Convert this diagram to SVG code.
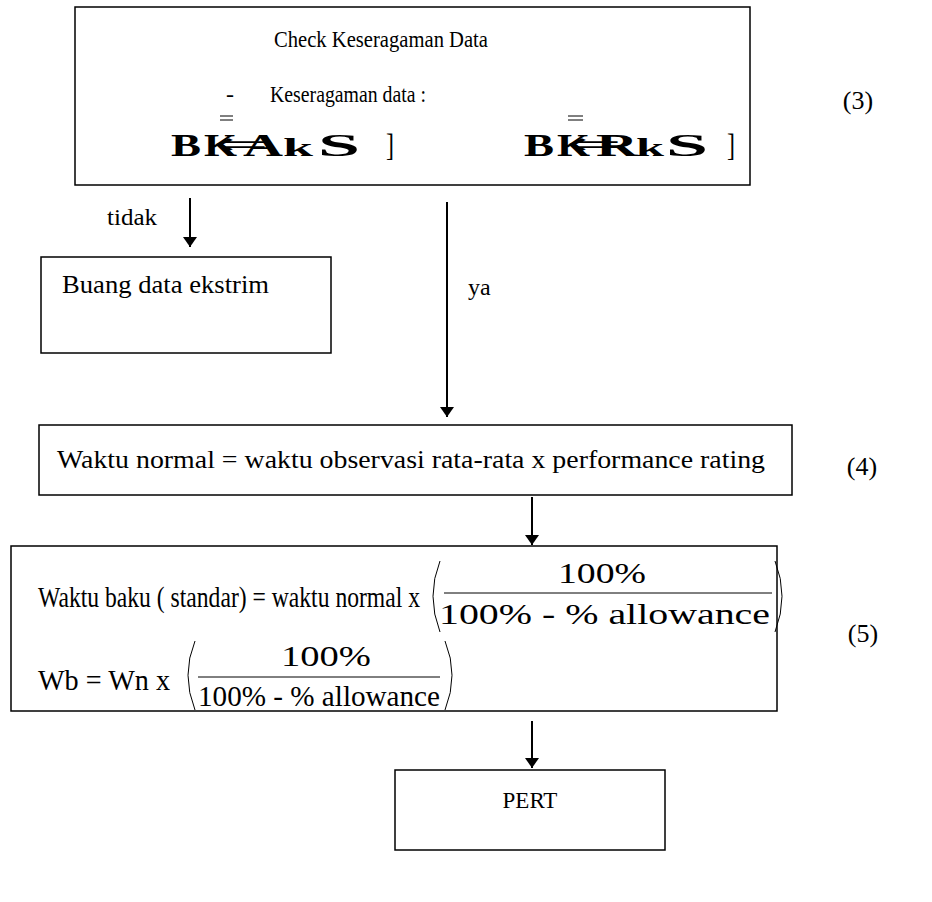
<svg xmlns="http://www.w3.org/2000/svg" width="932" height="902" viewBox="0 0 932 902">
<style>
.box{fill:#fff;stroke:#000;stroke-width:1.5}
.t{font-family:"Liberation Serif","Times New Roman",serif;fill:#000}
.g{font-family:"Liberation Serif","Times New Roman",serif;font-weight:bold;fill:#000}
.ln{stroke:#000;stroke-width:2;fill:none}
.thin{stroke:#000;stroke-width:1;fill:none}
</style>
<defs>
<marker id="ah" viewBox="0 0 10 14" refX="10" refY="7" markerWidth="10" markerHeight="14" markerUnits="userSpaceOnUse" orient="auto">
<path d="M0,0 L10,7 L0,14 Z" fill="#000"/>
</marker>
</defs>
<rect width="932" height="902" fill="#fff"/>

<g id="node-check">
<rect class="box" x="75" y="7" width="675" height="178"/>
<text class="t" x="274" y="47" font-size="24" textLength="214" lengthAdjust="spacingAndGlyphs">Check Keseragaman Data</text>
<text class="t" x="226" y="102" font-size="24">-</text>
<text class="t" x="270" y="102" font-size="24" textLength="156" lengthAdjust="spacingAndGlyphs">Keseragaman data :</text>
<line class="thin" x1="220" y1="116" x2="233" y2="116"/>
<line class="thin" x1="220" y1="120" x2="233" y2="120"/>
<line class="thin" x1="568" y1="116" x2="583" y2="116"/>
<line class="thin" x1="568" y1="120" x2="583" y2="120"/>
<g class="g" font-size="32">
<text x="171" y="156" textLength="30" lengthAdjust="spacingAndGlyphs">B</text>
<text x="204" y="156" textLength="33" lengthAdjust="spacingAndGlyphs">K</text>
<text x="213" y="154" font-weight="normal" font-size="30" textLength="55" lengthAdjust="spacingAndGlyphs">⇐</text>
<text x="243" y="156" textLength="40" lengthAdjust="spacingAndGlyphs">A</text>
<text x="283" y="156" font-size="26" textLength="30" lengthAdjust="spacingAndGlyphs">k</text>
<text x="318" y="156" textLength="42" lengthAdjust="spacingAndGlyphs">S</text>
<text x="386" y="156" font-weight="normal" textLength="8" lengthAdjust="spacingAndGlyphs">]</text>
<text x="524" y="156" textLength="30" lengthAdjust="spacingAndGlyphs">B</text>
<text x="557" y="156" textLength="33" lengthAdjust="spacingAndGlyphs">K</text>
<text x="566" y="154" font-weight="normal" font-size="30" textLength="55" lengthAdjust="spacingAndGlyphs">⇐</text>
<text x="596" y="156" textLength="42" lengthAdjust="spacingAndGlyphs">R</text>
<text x="636" y="156" font-size="26" textLength="28" lengthAdjust="spacingAndGlyphs">k</text>
<text x="666" y="156" textLength="42" lengthAdjust="spacingAndGlyphs">S</text>
<text x="727" y="156" font-weight="normal" textLength="8" lengthAdjust="spacingAndGlyphs">]</text>
</g>
</g>
<text class="t" x="858" y="109" font-size="26" text-anchor="middle">(3)</text>

<g id="node-buang">
<rect class="box" x="41" y="257" width="290" height="96"/>
<text class="t" x="62" y="293" font-size="25" textLength="207" lengthAdjust="spacingAndGlyphs">Buang data ekstrim</text>
</g>

<g id="node-normal">
<rect class="box" x="39" y="425" width="753" height="70"/>
<text class="t" x="57" y="468" font-size="25" textLength="708" lengthAdjust="spacingAndGlyphs">Waktu normal = waktu observasi rata-rata x performance rating</text>
</g>
<text class="t" x="862" y="475" font-size="26" text-anchor="middle">(4)</text>

<g id="node-baku">
<rect class="box" x="11" y="546" width="766" height="165"/>
<text class="t" x="38" y="607" font-size="29" textLength="382" lengthAdjust="spacingAndGlyphs">Waktu baku ( standar) = waktu normal x</text>
<path class="thin" d="M440,561 Q426,596 440,632"/>
<text class="t" x="602" y="583" font-size="29" text-anchor="middle" textLength="88" lengthAdjust="spacingAndGlyphs">100%</text>
<line class="thin" x1="444" y1="593" x2="772" y2="593"/>
<text class="t" x="439" y="624" font-size="29" textLength="331" lengthAdjust="spacingAndGlyphs">100% - % allowance</text>
<path class="thin" d="M775,561 Q789,596 775,632"/>
<text class="t" x="38" y="690" font-size="29" textLength="132" lengthAdjust="spacingAndGlyphs">Wb = Wn x</text>
<path class="thin" d="M195,641 Q181,675 195,710"/>
<text class="t" x="326" y="666" font-size="29" text-anchor="middle" textLength="90" lengthAdjust="spacingAndGlyphs">100%</text>
<line class="thin" x1="198" y1="677" x2="440" y2="677"/>
<text class="t" x="198" y="706" font-size="29" textLength="242" lengthAdjust="spacingAndGlyphs">100% - % allowance</text>
<path class="thin" d="M445,641 Q459,675 445,710"/>
</g>
<text class="t" x="863" y="642" font-size="26" text-anchor="middle">(5)</text>

<g id="node-pert">
<rect class="box" x="395" y="770" width="270" height="80"/>
<text class="t" x="530" y="808" font-size="23" text-anchor="middle">PERT</text>
</g>

<g id="connectors">
<line class="ln" x1="190" y1="198" x2="190" y2="247" marker-end="url(#ah)"/>
<text class="t" x="107" y="225" font-size="24" textLength="50" lengthAdjust="spacingAndGlyphs">tidak</text>
<line class="ln" x1="447" y1="202" x2="447" y2="417" marker-end="url(#ah)"/>
<text class="t" x="468" y="295" font-size="24">ya</text>
<line class="ln" x1="532" y1="497" x2="532" y2="545" marker-end="url(#ah)"/>
<line class="ln" x1="532" y1="721" x2="532" y2="768" marker-end="url(#ah)"/>
</g>
</svg>
